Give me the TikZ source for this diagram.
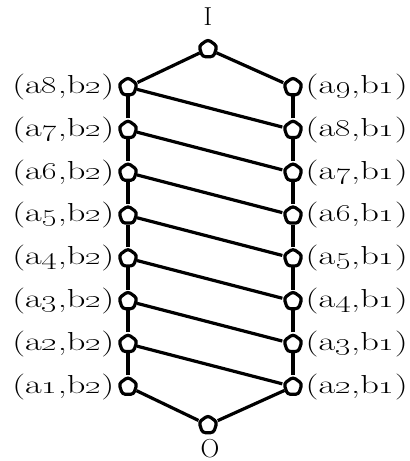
\documentclass[tikz,border=0pt]{standalone}
\usetikzlibrary{shapes.geometric}
\tikzset{
  elt/.style={regular polygon, regular polygon sides=5, draw=black, fill=white,
    line width=3.2pt, minimum size=19pt, inner sep=0pt, rounded corners=3pt},
  cov/.style={line width=3.2pt, line join=round},
  lbl/.style={font=\fontsize{26}{28}\selectfont, inner sep=1pt,
    xscale=1.4, transform shape},
  tbl/.style={font=\fontsize{26}{28}\selectfont, inner sep=0pt},
}
\begin{document}
\begin{tikzpicture}[x=1pt,y=-1pt]
  \useasboundingbox (0,0) rectangle (410,461);
  % top and bottom elements
  \node[elt] (top) at (208,49) {};
  \node[elt] (bot) at (208,425) {};
  \node[tbl] (topl) at (208,17) {I};
  \node[tbl, anchor=base] (botl) at (210,457) {O};

  % the two chains
  \foreach \i in {1,...,8}{
    \pgfmathsetmacro\yy{87+(8-\i)*42.8}
    \pgfmathtruncatemacro\j{\i+1}
    \node[elt] (L\i) at (128,\yy) {};
    \node[elt] (R\i) at (293,\yy) {};
    \node[lbl, anchor=east] (lL\i) at (116,\yy)
         {(a\oldstylenums{\i},b\oldstylenums{2})};
    \node[lbl, anchor=west] (lR\i) at (304,\yy)
         {(a\oldstylenums{\j},b\oldstylenums{1})};
  }

  % covering edges
  \draw[cov] (top) -- (L8);
  \draw[cov] (top) -- (R8);
  \draw[cov] (L1) -- (bot);
  \draw[cov] (R1) -- (bot);
  \foreach \i [count=\k from 2] in {1,...,7}{
    \draw[cov] (L\i) -- (L\k);
    \draw[cov] (R\i) -- (R\k);
    \draw[cov] (L\k) -- (R\i);
  }
\end{tikzpicture}
\end{document}
